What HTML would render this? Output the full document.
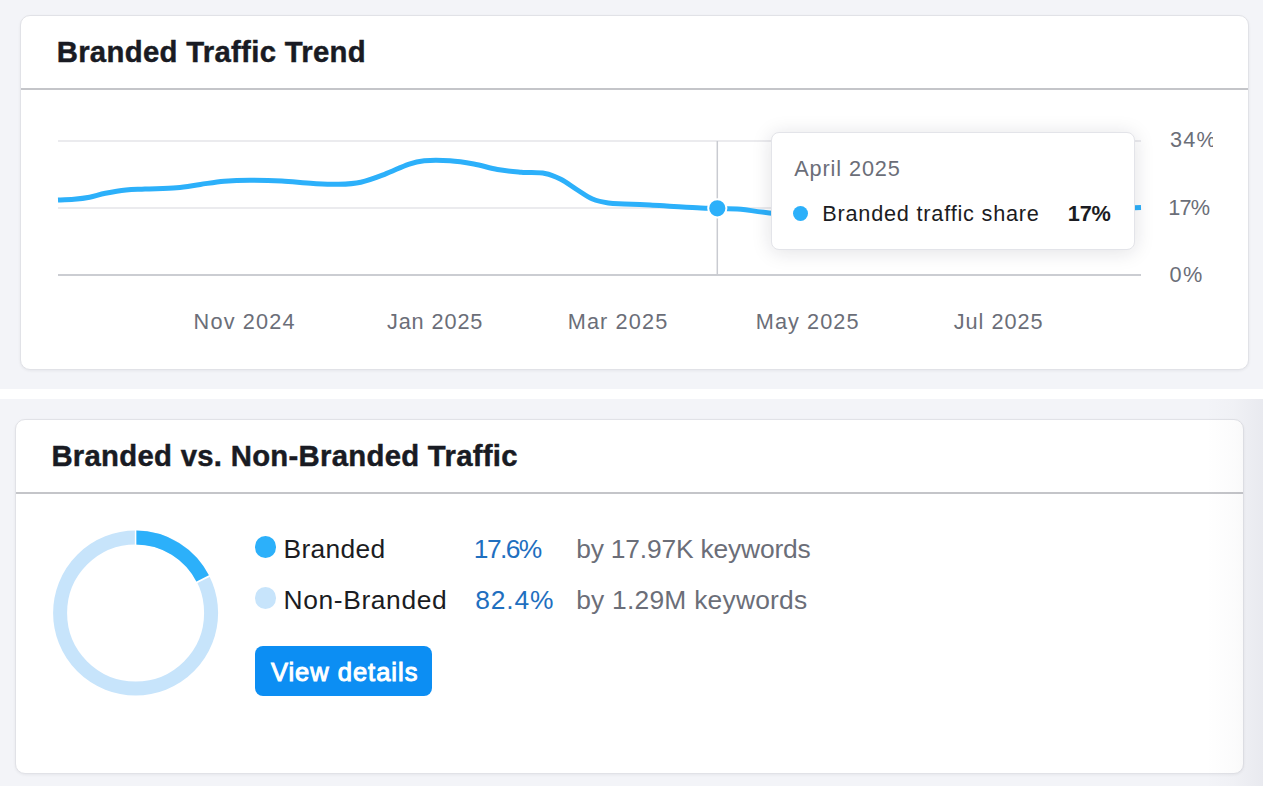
<!DOCTYPE html>
<html><head><meta charset="utf-8">
<style>
*{box-sizing:border-box;margin:0;padding:0}
html,body{width:1263px;height:786px;overflow:hidden;background:#f3f4f8;font-family:"Liberation Sans",sans-serif}
.abs{position:absolute}
.t{position:absolute;white-space:nowrap;line-height:1}
.card{position:absolute;background:#fff;border:1px solid #e1e2e7;border-radius:10px;box-shadow:0 1px 3px rgba(20,25,40,0.06)}
.ttl{font-weight:700;color:#191b23;font-size:29.3px;-webkit-text-stroke:0.45px #191b23}
.ax{color:#6b6e78;font-size:21.7px}
.lg{font-size:26.4px}
</style></head><body>
<!-- top card -->
<div class="card" style="left:20px;top:15px;width:1229px;height:355px"></div>
<div class="abs" style="left:21px;top:88px;width:1227px;height:2px;background:#c4c5c9"></div>
<div class="t ttl" style="left:56.7px;top:36.6px;letter-spacing:0.31px">Branded Traffic Trend</div>

<svg class="abs" style="left:0;top:0" width="1263" height="400">
  <line x1="58" y1="141" x2="1141" y2="141" stroke="#e4e5e9" stroke-width="1.5"/>
  <line x1="58" y1="208" x2="1141" y2="208" stroke="#e4e5e9" stroke-width="1.5"/>
  <line x1="58" y1="275" x2="1141" y2="275" stroke="#cbcdd2" stroke-width="1.8"/>
  <line x1="717.3" y1="141" x2="717.3" y2="275" stroke="#c9cbd1" stroke-width="1.5"/>
  <path d="M58.0,200.0 C60.7,199.9 68.7,199.8 74.0,199.3 C79.3,198.8 84.4,198.2 89.6,197.2 C94.8,196.2 99.3,194.5 105.4,193.3 C111.5,192.1 119.4,190.7 126.0,190.0 C132.6,189.3 136.6,189.4 145.0,189.0 C153.4,188.6 167.5,188.6 176.7,187.8 C185.9,187.0 192.5,185.5 200.4,184.4 C208.3,183.3 215.9,181.9 224.2,181.2 C232.5,180.5 240.4,180.2 250.0,180.2 C259.6,180.2 271.1,180.5 281.7,181.1 C292.2,181.7 303.8,183.0 313.3,183.5 C322.8,184.0 330.8,184.5 338.7,184.3 C346.6,184.1 353.1,183.9 360.8,182.2 C368.5,180.5 376.7,177.3 384.6,174.3 C392.5,171.3 401.8,166.6 408.4,164.3 C415.0,162.1 417.3,161.4 424.2,160.8 C431.1,160.2 441.7,160.3 450.0,160.8 C458.3,161.3 465.9,162.6 473.8,164.0 C481.7,165.4 489.6,168.1 497.5,169.5 C505.4,170.9 513.4,171.5 521.3,172.2 C529.2,172.9 538.4,172.3 545.0,173.5 C551.6,174.7 555.5,176.6 560.8,179.3 C566.1,182.0 571.4,186.2 576.7,189.5 C582.0,192.8 587.2,196.8 592.5,199.0 C597.8,201.2 603.1,202.2 608.4,203.0 C613.7,203.8 617.3,203.6 624.2,203.9 C631.1,204.2 641.7,204.5 650.0,204.9 C658.3,205.3 665.3,205.9 673.8,206.4 C682.3,206.9 693.5,207.6 700.8,207.9 C708.0,208.2 710.6,208.1 717.3,208.3 C724.0,208.5 732.3,208.5 741.0,209.3 C749.7,210.1 754.6,211.5 769.4,212.9 C784.2,214.3 791.6,218.0 830.0,218.0 C868.4,218.0 948.2,214.8 1000.0,213.0 C1051.8,211.2 1117.5,208.4 1141.0,207.5" fill="none" stroke="#2cb0fa" stroke-width="5" stroke-linecap="butt"/>
  <circle cx="717.3" cy="208.3" r="9.1" fill="#2cb0fa" stroke="#fff" stroke-width="2"/>
</svg>
<div class="abs" style="left:1150px;top:100px;width:63px;height:200px;overflow:hidden">
  <div class="t ax" style="left:19.9px;top:29.3px;letter-spacing:1.2px">34%</div>
  <div class="t ax" style="left:18.2px;top:96.6px;letter-spacing:-0.8px">17%</div>
  <div class="t ax" style="left:19.4px;top:163.7px;letter-spacing:1.5px">0%</div>
</div>
<div class="t ax" style="left:193.6px;top:311.2px;letter-spacing:1.17px">Nov 2024</div>
<div class="t ax" style="left:386.9px;top:311.2px;letter-spacing:0.9px">Jan 2025</div>
<div class="t ax" style="left:567.7px;top:311.2px;letter-spacing:1.13px">Mar 2025</div>
<div class="t ax" style="left:755.8px;top:311.2px;letter-spacing:1.07px">May 2025</div>
<div class="t ax" style="left:953.8px;top:311.2px;letter-spacing:0.96px">Jul 2025</div>

<!-- tooltip -->
<div class="abs" style="left:771px;top:132px;width:364px;height:118px;background:#fff;border:1px solid #e3e4e9;border-radius:8px;box-shadow:0 2px 20px rgba(20,25,50,0.13)"></div>
<div class="t ax" style="left:794.2px;top:157.8px;letter-spacing:0.89px">April 2025</div>
<div class="abs" style="left:793px;top:206px;width:15px;height:15px;border-radius:50%;background:#2cb0fa"></div>
<div class="t" style="left:822.2px;top:203.4px;font-size:21.7px;color:#1b1c22;letter-spacing:0.79px">Branded traffic share</div>
<div class="t" style="left:1067.7px;top:203.4px;font-size:21.7px;font-weight:700;color:#1b1c22;letter-spacing:-0.1px">17%</div>

<!-- white band -->
<div class="abs" style="left:0;top:389px;width:1263px;height:10px;background:#fff"></div>

<!-- bottom card -->
<div class="card" style="left:15px;top:419px;width:1229px;height:355px"></div>
<div class="abs" style="left:16px;top:492px;width:1227px;height:2px;background:#c4c5c9"></div>
<div class="t ttl" style="left:51.4px;top:440.7px;letter-spacing:0.29px">Branded vs. Non-Branded Traffic</div>

<svg class="abs" style="left:0;top:500px" width="300" height="230">
  <g transform="translate(135.6,113)">
    <circle r="75.5" fill="none" stroke="#c7e4fb" stroke-width="14"/>
    <path d="M0,-75.5 A75.5,75.5 0 0 1 67.6,-33.6" fill="none" stroke="#2cb0fa" stroke-width="14"/>
    <line x1="0" y1="-84" x2="0" y2="-67" stroke="#fff" stroke-width="1.5"/>
    <line x1="59.9" y1="-30" x2="75.1" y2="-37.6" stroke="#fff" stroke-width="1.8"/>
  </g>
</svg>

<div class="abs" style="left:254.5px;top:536px;width:21.5px;height:21.5px;border-radius:50%;background:#2cb0fa"></div>
<div class="t lg" style="left:283.5px;top:535.5px;color:#1b1c22;letter-spacing:0.32px">Branded</div>
<div class="t lg" style="left:473.8px;top:535.6px;color:#1f6fbf;letter-spacing:-1.58px">17.6%</div>
<div class="t lg" style="left:576.2px;top:535.6px;color:#6b6e78;letter-spacing:-0.18px">by 17.97K keywords</div>

<div class="abs" style="left:254.5px;top:587px;width:21.5px;height:21.5px;border-radius:50%;background:#c7e4fb"></div>
<div class="t lg" style="left:283.5px;top:586.8px;color:#1b1c22;letter-spacing:0.62px">Non-Branded</div>
<div class="t lg" style="left:475.3px;top:586.9px;color:#1f6fbf;letter-spacing:0.83px">82.4%</div>
<div class="t lg" style="left:576.2px;top:586.9px;color:#6b6e78;letter-spacing:0.23px">by 1.29M keywords</div>

<div class="abs" style="left:255px;top:646.3px;width:177px;height:50.2px;border-radius:8px;background:#0c8ef3"></div>
<div class="t" style="left:270.9px;top:659.7px;font-size:25.5px;font-weight:400;color:#fff;-webkit-text-stroke:1px #fff;letter-spacing:0.99px">View details</div>

<div class="abs" style="left:1205px;top:399px;width:58px;height:387px;background:linear-gradient(to right,rgba(40,40,70,0) 0%,rgba(40,40,70,0.015) 50%,rgba(40,40,70,0.05) 100%)"></div>
</body></html>
